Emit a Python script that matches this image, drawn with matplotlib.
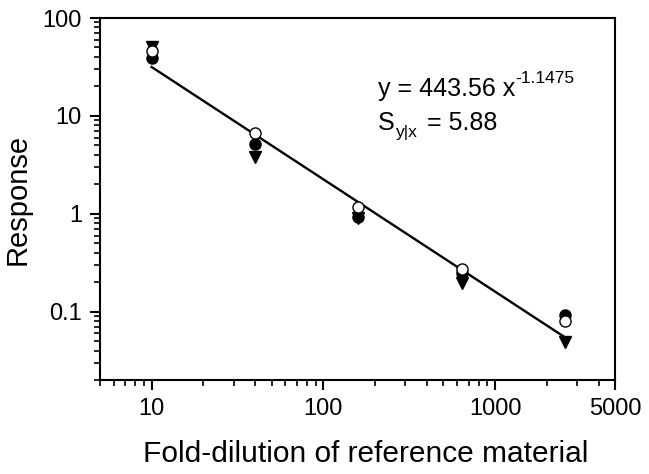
import matplotlib.pyplot as plt
import numpy as np
from matplotlib.ticker import LogLocator, NullFormatter, FixedLocator, FixedFormatter

plt.switch_backend('Agg')
plt.rcParams['font.family'] = ['Liberation Sans', 'DejaVu Sans']

# кратность разведения
dilution = [10, 40, 160, 640, 2560]
# три серии измерений
filled_circles = [39.5, 5.2, 0.92, 0.25, 0.093]
open_circles = [45.5, 6.7, 1.18, 0.27, 0.080]
triangles = [51.0, 3.8, 0.90, 0.195, 0.049]

# коэффициенты аппроксимации y = a * x^b
fit_a = 443.56
fit_b = -1.1475
fit_x = [10, 2560]

fig = plt.figure(figsize=(6.49, 4.74), dpi=100)
ax = fig.add_axes([0.154, 0.198, 0.794, 0.764])

fx = np.array(fit_x, dtype=float)
ax.plot(fx, fit_a * fx ** fit_b, '-', color='black', linewidth=1.7, zorder=2)

ax.plot(dilution, triangles, 'v', color='black', markersize=9, linestyle='none', zorder=3)
ax.plot(dilution, filled_circles, 'o', color='black', markersize=8, linestyle='none', zorder=4)
ax.plot(dilution, open_circles, 'o', markerfacecolor='white', markeredgecolor='black',
        markeredgewidth=1.0, markersize=8, linestyle='none', zorder=5)

ax.set_xscale('log')
ax.set_yscale('log')
ax.set_xlim(5, 5000)
ax.set_ylim(0.02, 100)

ax.xaxis.set_major_locator(FixedLocator([10, 100, 1000, 5000]))
ax.xaxis.set_major_formatter(FixedFormatter(['10', '100', '1000', '5000']))
ax.xaxis.set_minor_locator(LogLocator(base=10, subs=np.arange(2, 10)))
ax.xaxis.set_minor_formatter(NullFormatter())

ax.yaxis.set_major_locator(FixedLocator([0.1, 1, 10, 100]))
ax.yaxis.set_major_formatter(FixedFormatter(['0.1', '1', '10', '100']))
ax.yaxis.set_minor_locator(LogLocator(base=10, subs=np.arange(2, 10)))
ax.yaxis.set_minor_formatter(NullFormatter())

ax.tick_params(which='major', direction='out', length=7, width=1.5, labelsize=17, pad=6)
ax.tick_params(which='minor', direction='out', length=4, width=1.2)
for s in ax.spines.values():
    s.set_linewidth(1.5)

ax.set_xlabel('Fold-dilution of reference material', fontsize=21.5, labelpad=14, x=0.515)
ax.set_ylabel('Response', fontsize=21, labelpad=8)

# уравнение и показатель степени отдельными надписями
t1 = ax.text(0.54, 0.785, 'y = 443.56 x', transform=ax.transAxes, fontsize=18)
ax.annotate('-1.1475', xy=(1.0, 0.62), xycoords=t1, fontsize=12.5, va='bottom')
pos2 = (0.54, 0.69)
ax.text(pos2[0], pos2[1], 'S', transform=ax.transAxes, fontsize=18)
ax.annotate('y|x', xy=pos2, xycoords='axes fraction', xytext=(12.5, -4.5),
            textcoords='offset points', fontsize=12.5, va='baseline')
ax.annotate('= 5.88', xy=pos2, xycoords='axes fraction', xytext=(35, 0),
            textcoords='offset points', fontsize=18, va='baseline')

plt.savefig('out.png', dpi=100)
plt.close(fig)
